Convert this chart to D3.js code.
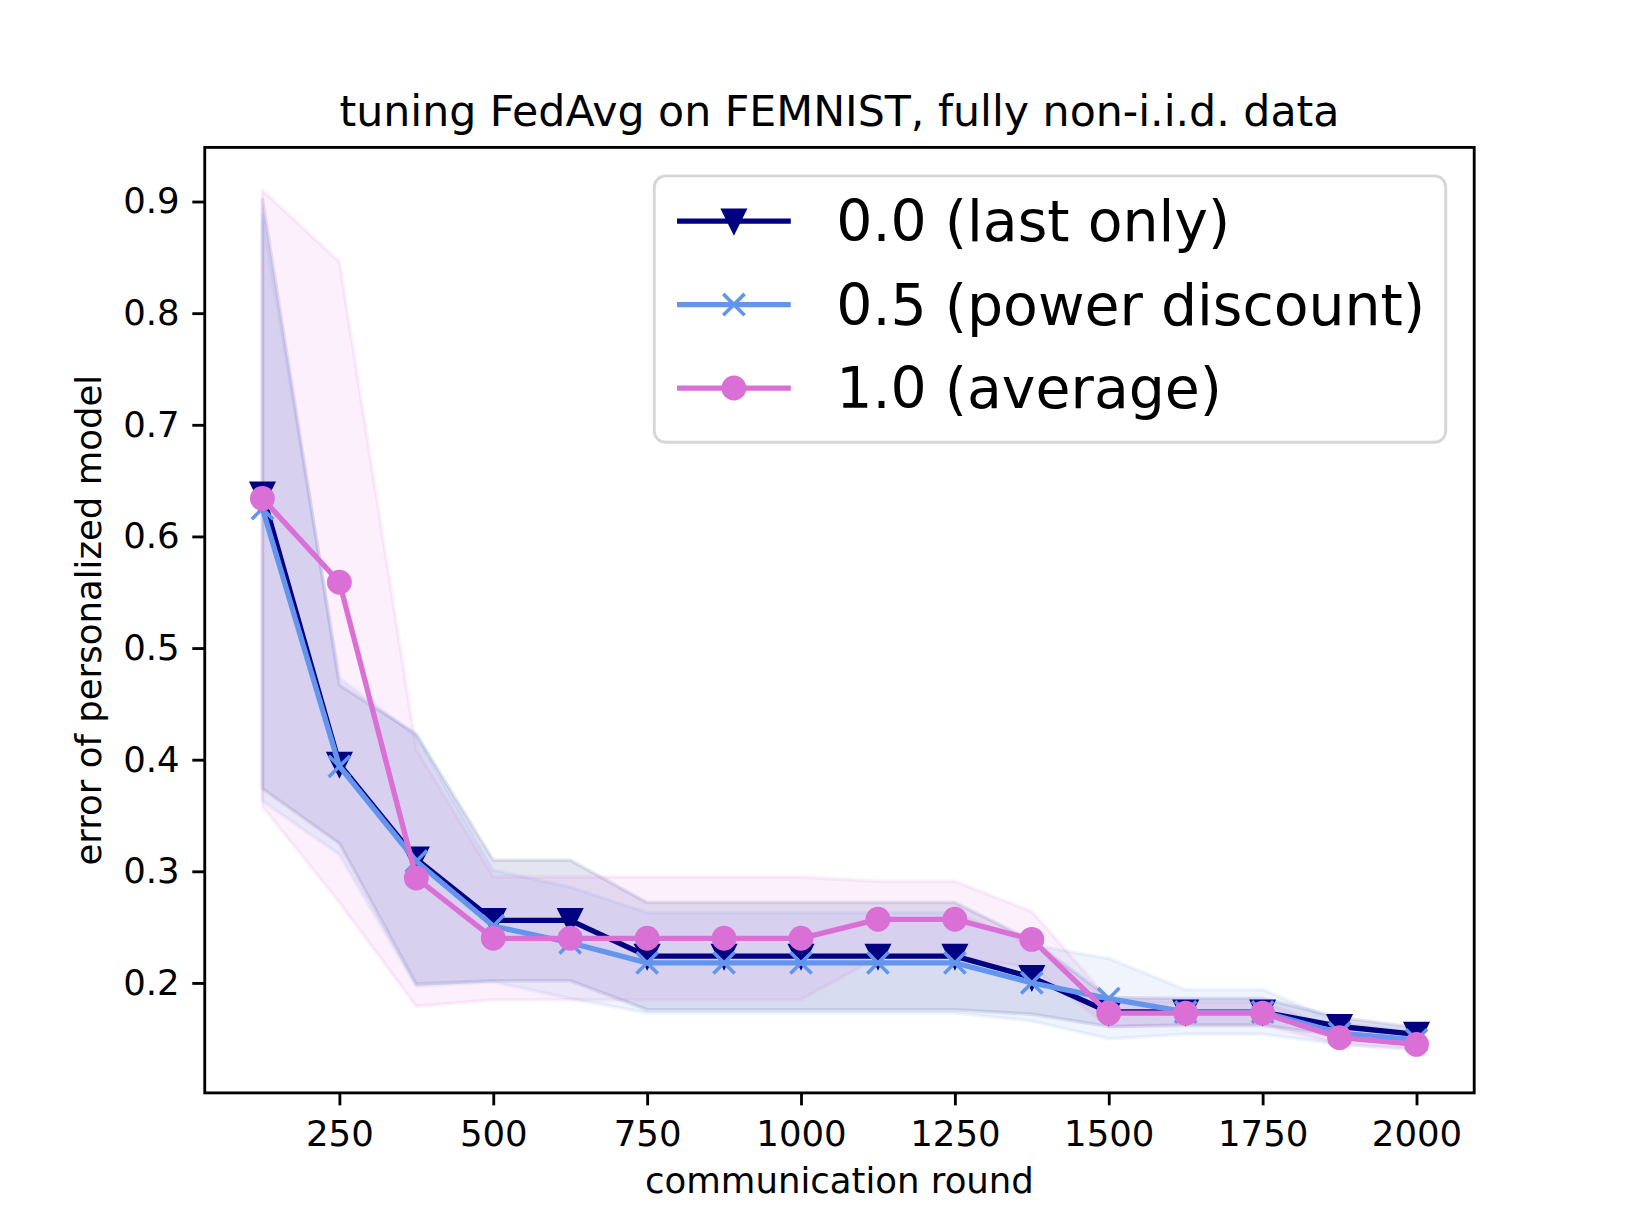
<!DOCTYPE html>
<html lang="en">
<head>
<meta charset="utf-8">
<title>tuning FedAvg on FEMNIST</title>
<script src="https://cdn.jsdelivr.net/npm/d3@7"></script>
<style>
  body { margin: 0; background: #fff; }
  svg { display: block; font-family: "DejaVu Sans", sans-serif; }
</style>
</head>
<body>
<svg id="chart" width="1638" height="1228"></svg>
<script>
// communication rounds (x positions)
var rounds = [125, 250, 375, 500, 625, 750, 875, 1000, 1125, 1250, 1375, 1500, 1625, 1750, 1875, 2000];

// 0.0 (last only)
var lastOnly    = [0.638, 0.396, 0.311, 0.256, 0.256, 0.224, 0.224, 0.224, 0.224, 0.224, 0.205, 0.174, 0.174, 0.174, 0.161, 0.154];
var lastOnlyStd = [0.264, 0.071, 0.112, 0.054, 0.054, 0.048, 0.048, 0.048, 0.048, 0.048, 0.033, 0.013, 0.012, 0.012, 0.008, 0.006];

// 0.5 (power discount)
var powerDisc    = [0.625, 0.394, 0.309, 0.251, 0.236, 0.218, 0.218, 0.218, 0.218, 0.218, 0.200, 0.186, 0.174, 0.174, 0.155, 0.149];
var powerDiscStd = [0.262, 0.079, 0.112, 0.050, 0.050, 0.045, 0.045, 0.045, 0.045, 0.045, 0.034, 0.036, 0.020, 0.020, 0.010, 0.008];

// 1.0 (average)
var average    = [0.634, 0.559, 0.294, 0.240, 0.240, 0.240, 0.240, 0.240, 0.257, 0.257, 0.239, 0.173, 0.173, 0.173, 0.151, 0.145];
var averageStd = [0.276, 0.287, 0.115, 0.055, 0.055, 0.055, 0.055, 0.055, 0.034, 0.034, 0.025, 0.012, 0.010, 0.010, 0.006, 0.005];

var seriesNames = ["0.0 (last only)", "0.5 (power discount)", "1.0 (average)"];
var xTicks = [250, 500, 750, 1000, 1250, 1500, 1750, 2000];
var yTicks = [0.2, 0.3, 0.4, 0.5, 0.6, 0.7, 0.8, 0.9];

var series = [
  {name: seriesNames[0], color: "navy",           marker: "tri", mean: lastOnly,  std: lastOnlyStd},
  {name: seriesNames[1], color: "cornflowerblue", marker: "x",   mean: powerDisc, std: powerDiscStd},
  {name: seriesNames[2], color: "orchid",         marker: "o",   mean: average,   std: averageStd}
];
series.forEach(function(s) {
  s.points = rounds.map(function(r, i) {
    return {x: r, y: s.mean[i], lo: s.mean[i] - s.std[i], hi: s.mean[i] + s.std[i]};
  });
});

var svg = d3.select("#chart");
var pt = 256 / 72;   // figure was 256 dpi
var box = {left: 204.75, right: 1474.2, top: 147.4, bottom: 1092.9};

// autoscale with 5% margins like matplotlib
var xExt = d3.extent(rounds), xPad = (xExt[1] - xExt[0]) * 0.05;
var allLo = d3.min(series, s => d3.min(s.points, p => p.lo));
var allHi = d3.max(series, s => d3.max(s.points, p => p.hi));
var yPad = (allHi - allLo) * 0.05;

var x = d3.scaleLinear().domain([xExt[0] - xPad, xExt[1] + xPad]).range([box.left, box.right]);
var y = d3.scaleLinear().domain([allLo - yPad, allHi + yPad]).range([box.bottom, box.top]);

svg.append("rect").attr("width", 1638).attr("height", 1228).attr("fill", "#fff");

// bands
var area = d3.area().x(d => x(d.x)).y0(d => y(d.lo)).y1(d => y(d.hi));
svg.selectAll("path.band")
  .data(series)
  .enter().append("path")
    .attr("class", "band")
    .attr("d", d => area(d.points))
    .attr("fill", d => d.color)
    .attr("fill-opacity", 0.1)
    .attr("stroke", d => d.color)
    .attr("stroke-opacity", 0.1)
    .attr("stroke-width", 1 * pt)
    .attr("stroke-linejoin", "round");

// marker shapes
var ms = 3 * pt;   // half of markersize 6
function drawMarker(g, kind, color) {
  if (kind === "o") {
    g.append("circle").attr("r", ms).attr("fill", color)
      .attr("stroke", color).attr("stroke-width", 1 * pt);
  } else if (kind === "tri") {
    g.append("path").attr("d", `M0,${ms}L${-ms},${-ms}L${ms},${-ms}Z`)
      .attr("fill", color).attr("stroke", color).attr("stroke-width", 1 * pt)
      .attr("stroke-linejoin", "miter");
  } else {
    g.append("path").attr("d", `M${-ms},${-ms}L${ms},${ms}M${-ms},${ms}L${ms},${-ms}`)
      .attr("fill", "none").attr("stroke", color).attr("stroke-width", 1 * pt);
  }
}

var line = d3.line().x(d => x(d.x)).y(d => y(d.y));
series.forEach(function(s) {
  svg.append("path")
    .attr("d", line(s.points))
    .attr("fill", "none")
    .attr("stroke", s.color)
    .attr("stroke-width", 1.5 * pt)
    .attr("stroke-linejoin", "round")
    .attr("stroke-linecap", "square");
  s.points.forEach(function(p) {
    var g = svg.append("g").attr("transform", `translate(${x(p.x)},${y(p.y)})`);
    drawMarker(g, s.marker, s.color);
  });
});

// axes
var xAxis = svg.append("g")
  .attr("transform", `translate(0,${box.bottom})`)
  .call(d3.axisBottom(x).tickValues(xTicks).tickSize(3.5 * pt).tickPadding(15).tickFormat(d3.format("d")));
var yAxis = svg.append("g")
  .attr("transform", `translate(${box.left},0)`)
  .call(d3.axisLeft(y).tickValues(yTicks).tickSize(3.5 * pt).tickPadding(12.6).tickFormat(d3.format(".1f")));
[xAxis, yAxis].forEach(function(a) {
  a.select(".domain").remove();
  a.selectAll("line").attr("stroke", "#000").attr("stroke-width", 0.8 * pt);
  a.selectAll("text").attr("fill", "#000").style("font-size", "35.5px")
    .style("font-family", "'DejaVu Sans', sans-serif");
});

svg.append("rect")
  .attr("x", box.left).attr("y", box.top)
  .attr("width", box.right - box.left).attr("height", box.bottom - box.top)
  .attr("fill", "none").attr("stroke", "#000").attr("stroke-width", 0.8 * pt);

// title and labels
var cx = (box.left + box.right) / 2;
svg.append("text")
  .attr("x", cx).attr("y", 126)
  .attr("text-anchor", "middle")
  .style("font-size", "42.7px")
  .text("tuning FedAvg on FEMNIST, fully non-i.i.d. data");

svg.append("text")
  .attr("x", cx).attr("y", 1193)
  .attr("text-anchor", "middle")
  .style("font-size", "35.5px")
  .text("communication round");

svg.append("text")
  .attr("transform", `translate(101,${(box.top + box.bottom) / 2}) rotate(-90)`)
  .attr("text-anchor", "middle")
  .style("font-size", "35.5px")
  .text("error of personalized model");

// legend
var fs = 16 * pt;
var legW = 791.5, legH = 266.4;
var legX = box.right - 0.5 * fs - legW, legY = box.top + 0.5 * fs;
var leg = svg.append("g");
leg.append("rect")
  .attr("x", legX).attr("y", legY)
  .attr("width", legW).attr("height", legH)
  .attr("rx", 0.2 * fs)
  .attr("fill", "#fff").attr("fill-opacity", 0.8)
  .attr("stroke", "#ccc").attr("stroke-opacity", 0.8)
  .attr("stroke-width", 0.8 * pt);

var hx0 = legX + 0.4 * fs, hx1 = hx0 + 2 * fs;
series.forEach(function(s, i) {
  var base = legY + 65.2 + i * 83.5;
  var hy = base - 20;
  leg.append("line")
    .attr("x1", hx0).attr("x2", hx1).attr("y1", hy).attr("y2", hy)
    .attr("stroke", s.color).attr("stroke-width", 1.5 * pt);
  drawMarker(leg.append("g").attr("transform", `translate(${(hx0 + hx1) / 2},${hy})`), s.marker, s.color);
  leg.append("text")
    .attr("x", hx1 + 0.8 * fs).attr("y", base)
    .style("font-size", fs + "px")
    .text(s.name);
});
</script>
</body>
</html>
